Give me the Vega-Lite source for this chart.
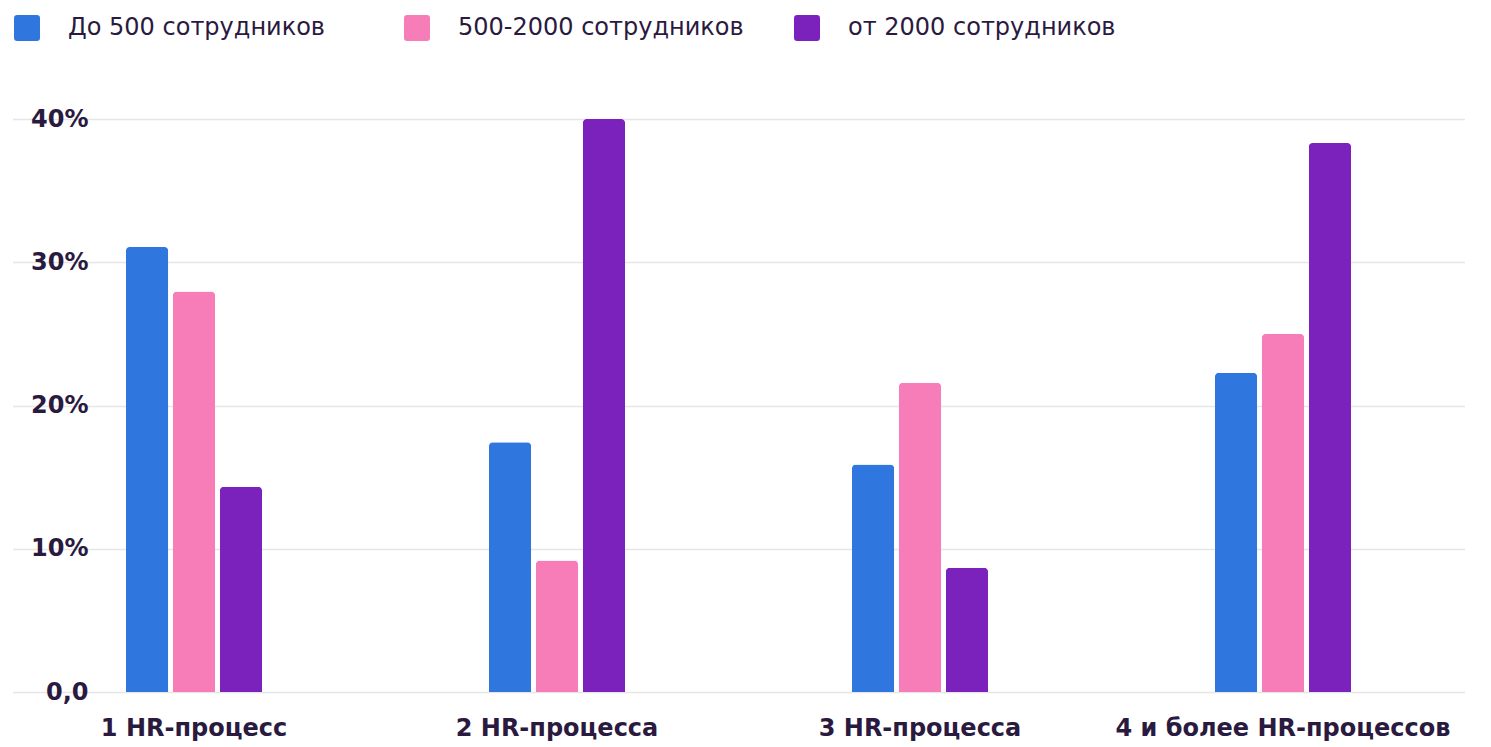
{
  "$schema": "https://vega.github.io/schema/vega-lite/v6.json",
  "autosize": "none",
  "width": 1372,
  "height": 573,
  "padding": {"left": 113, "top": 119, "right": 6, "bottom": 55},
  "background": "white",
  "config": {"view": {"stroke": null}, "font": "DejaVu Sans"},
  "data": {
    "values": [
      {"cat": "1 HR-процесс", "group": "До 500 сотрудников", "value": 31.07},
      {"cat": "1 HR-процесс", "group": "500-2000 сотрудников", "value": 27.96},
      {"cat": "1 HR-процесс", "group": "от 2000 сотрудников", "value": 14.33},
      {"cat": "2 HR-процесса", "group": "До 500 сотрудников", "value": 17.44},
      {"cat": "2 HR-процесса", "group": "500-2000 сотрудников", "value": 9.18},
      {"cat": "2 HR-процесса", "group": "от 2000 сотрудников", "value": 40.0},
      {"cat": "3 HR-процесса", "group": "До 500 сотрудников", "value": 15.88},
      {"cat": "3 HR-процесса", "group": "500-2000 сотрудников", "value": 21.58},
      {"cat": "3 HR-процесса", "group": "от 2000 сотрудников", "value": 8.67},
      {"cat": "4 и более HR-процессов", "group": "До 500 сотрудников", "value": 22.28},
      {"cat": "4 и более HR-процессов", "group": "500-2000 сотрудников", "value": 25.0},
      {"cat": "4 и более HR-процессов", "group": "от 2000 сотрудников", "value": 38.33}
    ]
  },
  "mark": {"type": "bar", "cornerRadiusTopLeft": 4, "cornerRadiusTopRight": 4},
  "encoding": {
    "x": {
      "field": "cat",
      "type": "nominal",
      "sort": ["1 HR-процесс", "2 HR-процесса", "3 HR-процесса", "4 и более HR-процессов"],
      "scale": {"range": [-100.5, 1351.5], "paddingInner": 0.612, "paddingOuter": 0.306},
      "axis": {
        "title": null,
        "labelAngle": 0,
        "domain": false,
        "ticks": false,
        "grid": false,
        "labelPadding": 24,
        "labelFontSize": 24,
        "labelFontWeight": "bold",
        "labelColor": "#2b1a40",
        "labelLimit": 600
      }
    },
    "xOffset": {
      "field": "group",
      "type": "nominal",
      "sort": ["До 500 сотрудников", "500-2000 сотрудников", "от 2000 сотрудников"],
      "scale": {"paddingInner": 0.1, "paddingOuter": 0.05}
    },
    "y": {
      "field": "value",
      "type": "quantitative",
      "scale": {"domain": [0, 40], "nice": false},
      "axis": {
        "title": null,
        "values": [0, 10, 20, 30, 40],
        "labelExpr": "datum.value == 0 ? '0,0' : datum.value + '%'",
        "domain": false,
        "ticks": false,
        "labelPadding": 25,
        "labelFontSize": 24,
        "labelFontWeight": "bold",
        "labelColor": "#2b1a40",
        "gridColor": "#e6e6e6",
        "gridWidth": 1.5
      }
    },
    "color": {
      "field": "group",
      "type": "nominal",
      "scale": {
        "domain": ["До 500 сотрудников", "500-2000 сотрудников", "от 2000 сотрудников"],
        "range": ["#2f76df", "#f67db8", "#7b21bc"]
      },
      "legend": {
        "title": null,
        "orient": "none",
        "legendX": -99,
        "legendY": -104,
        "direction": "horizontal",
        "gridAlign": "all",
        "columnPadding": 50,
        "symbolType": "M -0.75 -1 L 0.75 -1 Q 1 -1 1 -0.75 L 1 0.75 Q 1 1 0.75 1 L -0.75 1 Q -1 1 -1 0.75 L -1 -0.75 Q -1 -1 -0.75 -1 Z",
        "symbolSize": 676,
        "symbolStrokeWidth": 0,
        "symbolOpacity": 1,
        "labelFontSize": 24,
        "labelColor": "#2b1a40",
        "labelOffset": 28,
        "labelLimit": 400
      }
    }
  }
}
